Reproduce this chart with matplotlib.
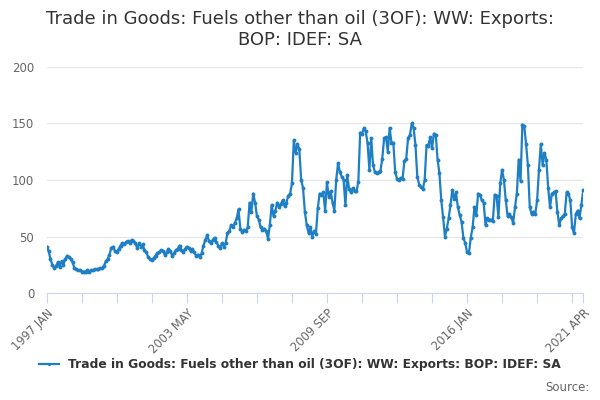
import numpy as np
import matplotlib
matplotlib.use("Agg")
import matplotlib.pyplot as plt

title = "Trade in Goods: Fuels other than oil (3OF): WW: Exports:\nBOP: IDEF: SA"
series_name = "Trade in Goods: Fuels other than oil (3OF): WW: Exports: BOP: IDEF: SA"

# monthly values, 1997 JAN .. 2021 APR
v1997 = [41, 37, 30, 25, 22, 24, 27, 23, 28, 25, 30, 33]
v1998 = [32, 30, 27, 22, 21, 20, 20, 19, 19, 19, 20, 19]
v1999 = [20, 20, 21, 21, 21, 22, 22, 24, 28, 30, 34, 40]
v2000 = [41, 37, 36, 39, 42, 44, 43, 45, 46, 44, 47, 46]
v2001 = [44, 40, 44, 41, 43, 38, 36, 32, 30, 29, 31, 33]
v2002 = [35, 36, 38, 37, 34, 36, 39, 37, 33, 35, 38, 39]
v2003 = [42, 38, 36, 39, 41, 40, 37, 39, 36, 33, 34, 32]
v2004 = [35, 42, 47, 51, 46, 44, 47, 49, 45, 42, 40, 44]
v2005 = [41, 44, 53, 55, 60, 58, 62, 66, 74, 57, 54, 56]
v2006 = [55, 58, 80, 72, 88, 80, 68, 65, 58, 56, 57, 55]
v2007 = [48, 60, 78, 68, 73, 80, 76, 79, 82, 77, 80, 86]
v2008 = [88, 97, 135, 124, 132, 127, 100, 93, 72, 60, 53, 58]
v2009 = [50, 55, 52, 75, 88, 87, 89, 73, 98, 85, 90, 80]
v2010 = [73, 100, 115, 107, 103, 100, 78, 104, 92, 89, 93, 90]
v2011 = [90, 98, 142, 141, 146, 143, 133, 109, 137, 113, 107, 106]
v2012 = [107, 108, 119, 137, 138, 125, 146, 133, 133, 107, 101, 100]
v2013 = [102, 101, 117, 119, 137, 140, 150, 146, 131, 103, 96, 94]
v2014 = [92, 100, 131, 130, 138, 128, 141, 140, 118, 106, 82, 67]
v2015 = [50, 57, 66, 78, 91, 83, 89, 76, 69, 63, 49, 44]
v2016 = [36, 35, 49, 58, 76, 69, 88, 87, 82, 80, 60, 66]
v2017 = [65, 65, 64, 87, 86, 67, 97, 109, 100, 82, 68, 70]
v2018 = [67, 62, 76, 88, 118, 99, 149, 148, 132, 113, 76, 70]
v2019 = [72, 70, 82, 109, 132, 113, 124, 118, 93, 76, 88, 89]
v2020 = [90, 72, 60, 66, 68, 70, 89, 88, 82, 58, 53, 70]
v2021 = [73, 66, 78, 91]

values = (v1997 + v1998 + v1999 + v2000 + v2001 + v2002 + v2003 + v2004 + v2005
          + v2006 + v2007 + v2008 + v2009 + v2010 + v2011 + v2012 + v2013 + v2014
          + v2015 + v2016 + v2017 + v2018 + v2019 + v2020 + v2021)

months = ["JAN", "FEB", "MAR", "APR", "MAY", "JUN", "JUL", "AUG", "SEP", "OCT", "NOV", "DEC"]
labels = [f"{1997 + i // 12} {months[i % 12]}" for i in range(len(values))]

tick_step = 19
label_every = 4
y_ticks = [0, 50, 100, 150, 200]

blue = "#1f7fc4"
axis_col = "#ccd6eb"
text_col = "#666666"

fig = plt.figure(figsize=(6, 4), dpi=100)
ax = fig.add_axes([0.078, 0.2675, 0.894, 0.565])

x = np.arange(len(values))
ax.plot(x, values, '-', color=blue, linewidth=1.6, marker='o', markersize=2.8,
        markeredgewidth=0, label=series_name, zorder=3)

ax.set_xlim(0, len(values) - 1)
ax.set_ylim(0, 200)
ax.set_yticks(y_ticks)
ax.set_yticklabels([str(t) for t in y_ticks], color=text_col, fontsize=8.5)
ax.grid(True, axis='y', color='#e6e6e6', linewidth=0.8)
ax.tick_params(axis='y', length=0, pad=9)

ticks = list(range(0, len(values), tick_step))
if ticks[-1] != len(values) - 1:
    ticks.append(len(values) - 1)
ax.set_xticks(ticks)
tlabels = []
for i, t in enumerate(ticks):
    if i % label_every == 0 or t == len(values) - 1:
        tlabels.append(labels[t])
    else:
        tlabels.append("")
ax.set_xticklabels(tlabels, rotation=45, ha='right', rotation_mode='anchor',
                   color=text_col, fontsize=8.3)
ax.tick_params(axis='x', length=7, color=axis_col, width=0.8, pad=3)

for s in ['top', 'right', 'left']:
    ax.spines[s].set_visible(False)
ax.spines['bottom'].set_color(axis_col)
ax.spines['bottom'].set_linewidth(0.8)
ax.set_axisbelow(True)

fig.text(0.5, 0.975, title, ha='center', va='top', fontsize=13, color='#333333',
         linespacing=1.2)

leg = fig.legend(loc='lower center', bbox_to_anchor=(0.5, 0.045), frameon=False,
                 prop={'weight': 'bold', 'size': 8.8}, handlelength=1.6,
                 markerscale=0.8)
for t in leg.get_texts():
    t.set_color('#333333')

fig.text(0.982, 0.015, "Source:", ha='right', va='bottom', fontsize=8.5, color='#666666')

fig.savefig("out.png", dpi=100)
